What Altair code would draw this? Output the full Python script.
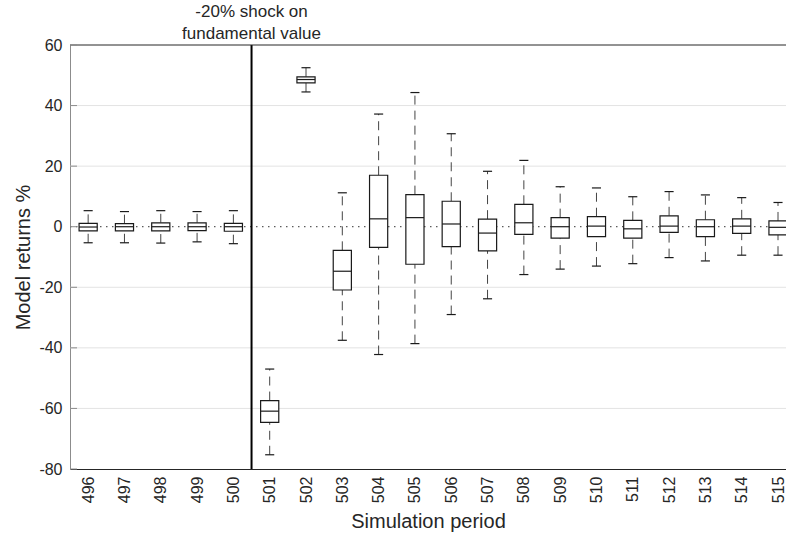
import altair as alt
import pandas as pd

periods = list(range(496, 516))
lower_whisker = [-5.3, -5.3, -5.4, -5.0, -5.6, -75.3, 44.5, -37.5, -42.2, -38.6,
                 -29.0, -23.8, -15.8, -14.0, -13.0, -12.2, -10.2, -11.3, -9.4, -9.4]
q1 = [-1.4, -1.4, -1.4, -1.3, -1.5, -64.6, 47.5, -20.9, -6.8, -12.4,
      -6.6, -8.0, -2.5, -3.8, -3.3, -3.8, -1.9, -3.3, -2.2, -2.7]
median = [-0.1, 0.0, 0.0, 0.0, 0.0, -60.9, 48.6, -14.7, 2.6, 3.0,
          0.9, -2.1, 1.3, 0.0, 0.2, -0.7, 0.2, 0.0, 0.2, -0.2]
q3 = [1.1, 1.0, 1.3, 1.3, 1.1, -57.4, 49.5, -7.8, 17.0, 10.6,
      8.4, 2.5, 7.4, 3.0, 3.3, 2.1, 3.6, 2.3, 2.6, 1.9]
upper_whisker = [5.3, 5.0, 5.3, 5.0, 5.3, -47.0, 52.5, 11.2, 37.2, 44.3,
                 30.7, 18.3, 21.9, 13.2, 12.8, 9.9, 11.6, 10.5, 9.6, 8.0]

y_ticks = [-80, -60, -40, -20, 0, 20, 40, 60]
grid_vals = [-60, -40, -20, 20, 40]
shock_period = 500.5
annotation = ["-20% shock on", "fundamental value"]

df = pd.DataFrame({
    "period": periods, "lo": lower_whisker, "q1": q1, "med": median,
    "q3": q3, "hi": upper_whisker,
})

W, H = 716, 424
FONT = "Liberation Sans"
TXT = "#262626"

xscale = alt.Scale(domain=[495.5, 515.22], nice=False, zero=False)
yscale = alt.Scale(domain=[-80, 60], nice=False, zero=False)

xaxis = alt.Axis(values=periods, labelAngle=-90, format="d", ticks=False, grid=False,
                 labelOverlap=False, labelBound=False,
                 domainColor="#262626", domainWidth=1, labelPadding=7, labelFontSize=16,
                 labelColor=TXT, title="Simulation period", titleFontSize=20,
                 titleFontWeight="normal", titleColor=TXT, titlePadding=9, labelFont=FONT,
                 titleFont=FONT)
yaxis = alt.Axis(values=y_ticks, ticks=False, grid=False, domainColor="#8c8c8c",
                 labelExpr="'' + datum.value", labelOverlap=False,
                 domainWidth=1, labelPadding=8, labelFontSize=16, labelColor=TXT,
                 title="Model returns %", titleFontSize=20, titleFontWeight="normal",
                 titleColor=TXT, titlePadding=5, labelFont=FONT, titleFont=FONT)


def X(field):
    return alt.X(field, scale=xscale, axis=xaxis)


def Y(field):
    return alt.Y(field, scale=yscale, axis=yaxis)


base = alt.Chart(df).transform_calculate(
    xl="datum.period - 0.25", xr="datum.period + 0.25",
    cl="datum.period - 0.125", cr="datum.period + 0.125",
)

grid = alt.Chart(pd.DataFrame({"g": grid_vals})).mark_rule(
    color="#e3e3e3", strokeWidth=1
).encode(y=Y("g:Q"), x=alt.value(0), x2=alt.value(W))

inner_ticks = alt.Chart(pd.DataFrame({"g": y_ticks})).mark_rule(
    color="#8c8c8c", strokeWidth=1
).encode(y=Y("g:Q"), x=alt.value(0), x2=alt.value(7))

zero = alt.Chart(pd.DataFrame({"z": [0]})).mark_rule(
    color="#333333", strokeWidth=1, strokeDash=[1.5, 4.5]
).encode(y=Y("z:Q"), x=alt.value(0), x2=alt.value(W))

shock = alt.Chart(pd.DataFrame({"s": [shock_period], "a": [-80], "b": [60]})).mark_rule(
    color="#000000", strokeWidth=2
).encode(x=X("s:Q"), y=Y("a:Q"), y2="b:Q")

top_border = alt.Chart(pd.DataFrame({"t": [60]})).mark_rule(
    color="#262626", strokeWidth=1
).encode(y=Y("t:Q"), x=alt.value(0), x2=alt.value(W + 2))

whisk_up = base.mark_rule(color="#444444", strokeWidth=1, strokeDash=[9, 6]).encode(
    x=X("period:Q"), y=Y("q3:Q"), y2="hi:Q")
whisk_lo = base.mark_rule(color="#444444", strokeWidth=1, strokeDash=[9, 6]).encode(
    x=X("period:Q"), y=Y("lo:Q"), y2="q1:Q")

box = base.mark_rect(fill="white", stroke="#1a1a1a", strokeWidth=1.2).encode(
    x=X("xl:Q"), x2="xr:Q", y=Y("q1:Q"), y2="q3:Q")

med = base.mark_rule(color="#1a1a1a", strokeWidth=1.2).encode(
    x=X("xl:Q"), x2="xr:Q", y=Y("med:Q"))

cap_hi = base.mark_rule(color="#1a1a1a", strokeWidth=1.2).encode(
    x=X("cl:Q"), x2="cr:Q", y=Y("hi:Q"))
cap_lo = base.mark_rule(color="#1a1a1a", strokeWidth=1.2).encode(
    x=X("cl:Q"), x2="cr:Q", y=Y("lo:Q"))

ann_df = pd.DataFrame({"s": [shock_period]})
ann1 = alt.Chart(ann_df).mark_text(
    text=annotation[0], fontSize=17, font=FONT, color=TXT, baseline="middle", align="center"
).encode(x=X("s:Q"), y=alt.value(-33))
ann2 = alt.Chart(ann_df).mark_text(
    text=annotation[1], fontSize=17, font=FONT, color=TXT, baseline="middle", align="center"
).encode(x=X("s:Q"), y=alt.value(-11))

chart = alt.layer(
    grid, zero, shock, whisk_up, whisk_lo, box, med, cap_hi, cap_lo,
    top_border, inner_ticks, ann1, ann2
).properties(
    width=W, height=H,
    padding={"left": 70, "top": 45, "right": 0, "bottom": 66},
    autosize=alt.AutoSizeParams(type="none"),
    background="white",
).configure_view(stroke=None)

chart.save("out.html", embed_options={"renderer": "svg", "actions": False})
